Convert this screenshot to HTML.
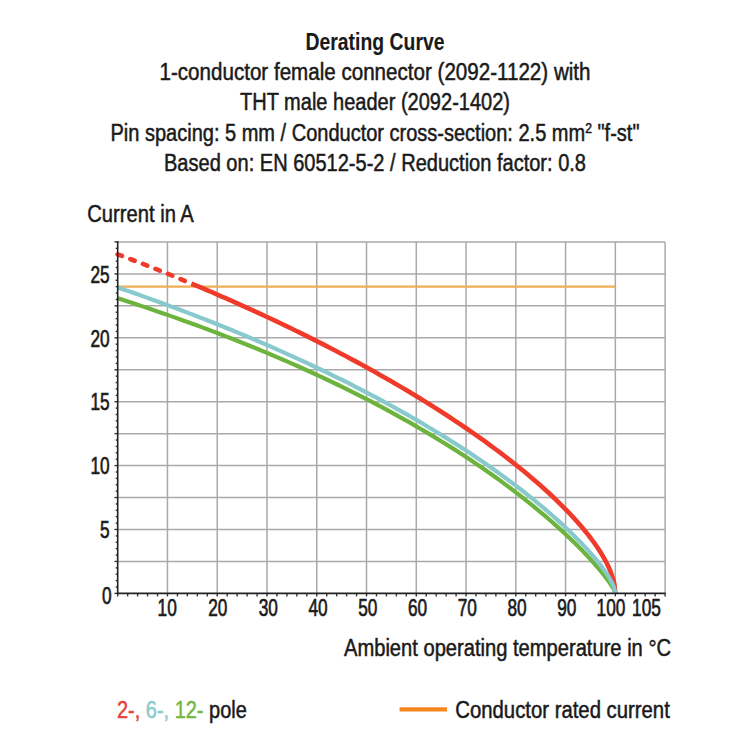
<!DOCTYPE html>
<html><head><meta charset="utf-8"><style>
html,body{margin:0;padding:0;background:#fff;width:750px;height:750px;overflow:hidden}
svg{display:block}
text{font-family:"Liberation Sans",sans-serif;stroke-width:0.5px}
</style></head><body>
<svg width="750" height="750" viewBox="0 0 750 750">
<g id="chart">
<line x1="167.46" y1="241.95" x2="167.46" y2="593.40" stroke="#a9a9a9" stroke-width="1.5"/>
<line x1="217.23" y1="241.95" x2="217.23" y2="593.40" stroke="#a9a9a9" stroke-width="1.5"/>
<line x1="266.99" y1="241.95" x2="266.99" y2="593.40" stroke="#a9a9a9" stroke-width="1.5"/>
<line x1="316.75" y1="241.95" x2="316.75" y2="593.40" stroke="#a9a9a9" stroke-width="1.5"/>
<line x1="366.52" y1="241.95" x2="366.52" y2="593.40" stroke="#a9a9a9" stroke-width="1.5"/>
<line x1="416.28" y1="241.95" x2="416.28" y2="593.40" stroke="#a9a9a9" stroke-width="1.5"/>
<line x1="466.05" y1="241.95" x2="466.05" y2="593.40" stroke="#a9a9a9" stroke-width="1.5"/>
<line x1="515.81" y1="241.95" x2="515.81" y2="593.40" stroke="#a9a9a9" stroke-width="1.5"/>
<line x1="565.57" y1="241.95" x2="565.57" y2="593.40" stroke="#a9a9a9" stroke-width="1.5"/>
<line x1="615.34" y1="241.95" x2="615.34" y2="593.40" stroke="#a9a9a9" stroke-width="1.5"/>
<line x1="665.10" y1="241.95" x2="665.10" y2="593.40" stroke="#a9a9a9" stroke-width="1.5"/>
<line x1="117.70" y1="561.45" x2="665.10" y2="561.45" stroke="#a9a9a9" stroke-width="1.5"/>
<line x1="117.70" y1="529.50" x2="665.10" y2="529.50" stroke="#a9a9a9" stroke-width="1.5"/>
<line x1="117.70" y1="497.55" x2="665.10" y2="497.55" stroke="#a9a9a9" stroke-width="1.5"/>
<line x1="117.70" y1="465.60" x2="665.10" y2="465.60" stroke="#a9a9a9" stroke-width="1.5"/>
<line x1="117.70" y1="433.65" x2="665.10" y2="433.65" stroke="#a9a9a9" stroke-width="1.5"/>
<line x1="117.70" y1="401.70" x2="665.10" y2="401.70" stroke="#a9a9a9" stroke-width="1.5"/>
<line x1="117.70" y1="369.75" x2="665.10" y2="369.75" stroke="#a9a9a9" stroke-width="1.5"/>
<line x1="117.70" y1="337.80" x2="665.10" y2="337.80" stroke="#a9a9a9" stroke-width="1.5"/>
<line x1="117.70" y1="305.85" x2="665.10" y2="305.85" stroke="#a9a9a9" stroke-width="1.5"/>
<line x1="117.70" y1="273.90" x2="665.10" y2="273.90" stroke="#a9a9a9" stroke-width="1.5"/>
<line x1="117.70" y1="241.95" x2="665.10" y2="241.95" stroke="#a9a9a9" stroke-width="1.5"/>
<line x1="114.50" y1="593.40" x2="117.70" y2="593.40" stroke="#333" stroke-width="1.4"/>
<line x1="115.70" y1="587.01" x2="117.70" y2="587.01" stroke="#333" stroke-width="1.4"/>
<line x1="115.70" y1="580.62" x2="117.70" y2="580.62" stroke="#333" stroke-width="1.4"/>
<line x1="115.70" y1="574.23" x2="117.70" y2="574.23" stroke="#333" stroke-width="1.4"/>
<line x1="115.70" y1="567.84" x2="117.70" y2="567.84" stroke="#333" stroke-width="1.4"/>
<line x1="114.50" y1="561.45" x2="117.70" y2="561.45" stroke="#333" stroke-width="1.4"/>
<line x1="115.70" y1="555.06" x2="117.70" y2="555.06" stroke="#333" stroke-width="1.4"/>
<line x1="115.70" y1="548.67" x2="117.70" y2="548.67" stroke="#333" stroke-width="1.4"/>
<line x1="115.70" y1="542.28" x2="117.70" y2="542.28" stroke="#333" stroke-width="1.4"/>
<line x1="115.70" y1="535.89" x2="117.70" y2="535.89" stroke="#333" stroke-width="1.4"/>
<line x1="114.50" y1="529.50" x2="117.70" y2="529.50" stroke="#333" stroke-width="1.4"/>
<line x1="115.70" y1="523.11" x2="117.70" y2="523.11" stroke="#333" stroke-width="1.4"/>
<line x1="115.70" y1="516.72" x2="117.70" y2="516.72" stroke="#333" stroke-width="1.4"/>
<line x1="115.70" y1="510.33" x2="117.70" y2="510.33" stroke="#333" stroke-width="1.4"/>
<line x1="115.70" y1="503.94" x2="117.70" y2="503.94" stroke="#333" stroke-width="1.4"/>
<line x1="114.50" y1="497.55" x2="117.70" y2="497.55" stroke="#333" stroke-width="1.4"/>
<line x1="115.70" y1="491.16" x2="117.70" y2="491.16" stroke="#333" stroke-width="1.4"/>
<line x1="115.70" y1="484.77" x2="117.70" y2="484.77" stroke="#333" stroke-width="1.4"/>
<line x1="115.70" y1="478.38" x2="117.70" y2="478.38" stroke="#333" stroke-width="1.4"/>
<line x1="115.70" y1="471.99" x2="117.70" y2="471.99" stroke="#333" stroke-width="1.4"/>
<line x1="114.50" y1="465.60" x2="117.70" y2="465.60" stroke="#333" stroke-width="1.4"/>
<line x1="115.70" y1="459.21" x2="117.70" y2="459.21" stroke="#333" stroke-width="1.4"/>
<line x1="115.70" y1="452.82" x2="117.70" y2="452.82" stroke="#333" stroke-width="1.4"/>
<line x1="115.70" y1="446.43" x2="117.70" y2="446.43" stroke="#333" stroke-width="1.4"/>
<line x1="115.70" y1="440.04" x2="117.70" y2="440.04" stroke="#333" stroke-width="1.4"/>
<line x1="114.50" y1="433.65" x2="117.70" y2="433.65" stroke="#333" stroke-width="1.4"/>
<line x1="115.70" y1="427.26" x2="117.70" y2="427.26" stroke="#333" stroke-width="1.4"/>
<line x1="115.70" y1="420.87" x2="117.70" y2="420.87" stroke="#333" stroke-width="1.4"/>
<line x1="115.70" y1="414.48" x2="117.70" y2="414.48" stroke="#333" stroke-width="1.4"/>
<line x1="115.70" y1="408.09" x2="117.70" y2="408.09" stroke="#333" stroke-width="1.4"/>
<line x1="114.50" y1="401.70" x2="117.70" y2="401.70" stroke="#333" stroke-width="1.4"/>
<line x1="115.70" y1="395.31" x2="117.70" y2="395.31" stroke="#333" stroke-width="1.4"/>
<line x1="115.70" y1="388.92" x2="117.70" y2="388.92" stroke="#333" stroke-width="1.4"/>
<line x1="115.70" y1="382.53" x2="117.70" y2="382.53" stroke="#333" stroke-width="1.4"/>
<line x1="115.70" y1="376.14" x2="117.70" y2="376.14" stroke="#333" stroke-width="1.4"/>
<line x1="114.50" y1="369.75" x2="117.70" y2="369.75" stroke="#333" stroke-width="1.4"/>
<line x1="115.70" y1="363.36" x2="117.70" y2="363.36" stroke="#333" stroke-width="1.4"/>
<line x1="115.70" y1="356.97" x2="117.70" y2="356.97" stroke="#333" stroke-width="1.4"/>
<line x1="115.70" y1="350.58" x2="117.70" y2="350.58" stroke="#333" stroke-width="1.4"/>
<line x1="115.70" y1="344.19" x2="117.70" y2="344.19" stroke="#333" stroke-width="1.4"/>
<line x1="114.50" y1="337.80" x2="117.70" y2="337.80" stroke="#333" stroke-width="1.4"/>
<line x1="115.70" y1="331.41" x2="117.70" y2="331.41" stroke="#333" stroke-width="1.4"/>
<line x1="115.70" y1="325.02" x2="117.70" y2="325.02" stroke="#333" stroke-width="1.4"/>
<line x1="115.70" y1="318.63" x2="117.70" y2="318.63" stroke="#333" stroke-width="1.4"/>
<line x1="115.70" y1="312.24" x2="117.70" y2="312.24" stroke="#333" stroke-width="1.4"/>
<line x1="114.50" y1="305.85" x2="117.70" y2="305.85" stroke="#333" stroke-width="1.4"/>
<line x1="115.70" y1="299.46" x2="117.70" y2="299.46" stroke="#333" stroke-width="1.4"/>
<line x1="115.70" y1="293.07" x2="117.70" y2="293.07" stroke="#333" stroke-width="1.4"/>
<line x1="115.70" y1="286.68" x2="117.70" y2="286.68" stroke="#333" stroke-width="1.4"/>
<line x1="115.70" y1="280.29" x2="117.70" y2="280.29" stroke="#333" stroke-width="1.4"/>
<line x1="114.50" y1="273.90" x2="117.70" y2="273.90" stroke="#333" stroke-width="1.4"/>
<line x1="115.70" y1="267.51" x2="117.70" y2="267.51" stroke="#333" stroke-width="1.4"/>
<line x1="115.70" y1="261.12" x2="117.70" y2="261.12" stroke="#333" stroke-width="1.4"/>
<line x1="115.70" y1="254.73" x2="117.70" y2="254.73" stroke="#333" stroke-width="1.4"/>
<line x1="115.70" y1="248.34" x2="117.70" y2="248.34" stroke="#333" stroke-width="1.4"/>
<line x1="114.50" y1="241.95" x2="117.70" y2="241.95" stroke="#333" stroke-width="1.4"/>
<line x1="117.70" y1="593.40" x2="117.70" y2="596.40" stroke="#333" stroke-width="1.4"/>
<line x1="127.65" y1="593.40" x2="127.65" y2="596.40" stroke="#333" stroke-width="1.4"/>
<line x1="137.61" y1="593.40" x2="137.61" y2="596.40" stroke="#333" stroke-width="1.4"/>
<line x1="147.56" y1="593.40" x2="147.56" y2="596.40" stroke="#333" stroke-width="1.4"/>
<line x1="157.51" y1="593.40" x2="157.51" y2="596.40" stroke="#333" stroke-width="1.4"/>
<line x1="167.46" y1="593.40" x2="167.46" y2="596.40" stroke="#333" stroke-width="1.4"/>
<line x1="177.42" y1="593.40" x2="177.42" y2="596.40" stroke="#333" stroke-width="1.4"/>
<line x1="187.37" y1="593.40" x2="187.37" y2="596.40" stroke="#333" stroke-width="1.4"/>
<line x1="197.32" y1="593.40" x2="197.32" y2="596.40" stroke="#333" stroke-width="1.4"/>
<line x1="207.27" y1="593.40" x2="207.27" y2="596.40" stroke="#333" stroke-width="1.4"/>
<line x1="217.23" y1="593.40" x2="217.23" y2="596.40" stroke="#333" stroke-width="1.4"/>
<line x1="227.18" y1="593.40" x2="227.18" y2="596.40" stroke="#333" stroke-width="1.4"/>
<line x1="237.13" y1="593.40" x2="237.13" y2="596.40" stroke="#333" stroke-width="1.4"/>
<line x1="247.09" y1="593.40" x2="247.09" y2="596.40" stroke="#333" stroke-width="1.4"/>
<line x1="257.04" y1="593.40" x2="257.04" y2="596.40" stroke="#333" stroke-width="1.4"/>
<line x1="266.99" y1="593.40" x2="266.99" y2="596.40" stroke="#333" stroke-width="1.4"/>
<line x1="276.94" y1="593.40" x2="276.94" y2="596.40" stroke="#333" stroke-width="1.4"/>
<line x1="286.90" y1="593.40" x2="286.90" y2="596.40" stroke="#333" stroke-width="1.4"/>
<line x1="296.85" y1="593.40" x2="296.85" y2="596.40" stroke="#333" stroke-width="1.4"/>
<line x1="306.80" y1="593.40" x2="306.80" y2="596.40" stroke="#333" stroke-width="1.4"/>
<line x1="316.75" y1="593.40" x2="316.75" y2="596.40" stroke="#333" stroke-width="1.4"/>
<line x1="326.71" y1="593.40" x2="326.71" y2="596.40" stroke="#333" stroke-width="1.4"/>
<line x1="336.66" y1="593.40" x2="336.66" y2="596.40" stroke="#333" stroke-width="1.4"/>
<line x1="346.61" y1="593.40" x2="346.61" y2="596.40" stroke="#333" stroke-width="1.4"/>
<line x1="356.57" y1="593.40" x2="356.57" y2="596.40" stroke="#333" stroke-width="1.4"/>
<line x1="366.52" y1="593.40" x2="366.52" y2="596.40" stroke="#333" stroke-width="1.4"/>
<line x1="376.47" y1="593.40" x2="376.47" y2="596.40" stroke="#333" stroke-width="1.4"/>
<line x1="386.42" y1="593.40" x2="386.42" y2="596.40" stroke="#333" stroke-width="1.4"/>
<line x1="396.38" y1="593.40" x2="396.38" y2="596.40" stroke="#333" stroke-width="1.4"/>
<line x1="406.33" y1="593.40" x2="406.33" y2="596.40" stroke="#333" stroke-width="1.4"/>
<line x1="416.28" y1="593.40" x2="416.28" y2="596.40" stroke="#333" stroke-width="1.4"/>
<line x1="426.23" y1="593.40" x2="426.23" y2="596.40" stroke="#333" stroke-width="1.4"/>
<line x1="436.19" y1="593.40" x2="436.19" y2="596.40" stroke="#333" stroke-width="1.4"/>
<line x1="446.14" y1="593.40" x2="446.14" y2="596.40" stroke="#333" stroke-width="1.4"/>
<line x1="456.09" y1="593.40" x2="456.09" y2="596.40" stroke="#333" stroke-width="1.4"/>
<line x1="466.05" y1="593.40" x2="466.05" y2="596.40" stroke="#333" stroke-width="1.4"/>
<line x1="476.00" y1="593.40" x2="476.00" y2="596.40" stroke="#333" stroke-width="1.4"/>
<line x1="485.95" y1="593.40" x2="485.95" y2="596.40" stroke="#333" stroke-width="1.4"/>
<line x1="495.90" y1="593.40" x2="495.90" y2="596.40" stroke="#333" stroke-width="1.4"/>
<line x1="505.86" y1="593.40" x2="505.86" y2="596.40" stroke="#333" stroke-width="1.4"/>
<line x1="515.81" y1="593.40" x2="515.81" y2="596.40" stroke="#333" stroke-width="1.4"/>
<line x1="525.76" y1="593.40" x2="525.76" y2="596.40" stroke="#333" stroke-width="1.4"/>
<line x1="535.71" y1="593.40" x2="535.71" y2="596.40" stroke="#333" stroke-width="1.4"/>
<line x1="545.67" y1="593.40" x2="545.67" y2="596.40" stroke="#333" stroke-width="1.4"/>
<line x1="555.62" y1="593.40" x2="555.62" y2="596.40" stroke="#333" stroke-width="1.4"/>
<line x1="565.57" y1="593.40" x2="565.57" y2="596.40" stroke="#333" stroke-width="1.4"/>
<line x1="575.53" y1="593.40" x2="575.53" y2="596.40" stroke="#333" stroke-width="1.4"/>
<line x1="585.48" y1="593.40" x2="585.48" y2="596.40" stroke="#333" stroke-width="1.4"/>
<line x1="595.43" y1="593.40" x2="595.43" y2="596.40" stroke="#333" stroke-width="1.4"/>
<line x1="605.38" y1="593.40" x2="605.38" y2="596.40" stroke="#333" stroke-width="1.4"/>
<line x1="615.34" y1="593.40" x2="615.34" y2="596.40" stroke="#333" stroke-width="1.4"/>
<line x1="625.29" y1="593.40" x2="625.29" y2="596.40" stroke="#333" stroke-width="1.4"/>
<line x1="635.24" y1="593.40" x2="635.24" y2="596.40" stroke="#333" stroke-width="1.4"/>
<line x1="645.19" y1="593.40" x2="645.19" y2="596.40" stroke="#333" stroke-width="1.4"/>
<line x1="655.15" y1="593.40" x2="655.15" y2="596.40" stroke="#333" stroke-width="1.4"/>
<line x1="665.10" y1="593.40" x2="665.10" y2="596.40" stroke="#333" stroke-width="1.4"/>
<line x1="117.70" y1="286.68" x2="615.34" y2="286.68" stroke="#f0ad55" stroke-width="2.2"/>
<path d="M117.70,254.31 L122.68,256.19 L127.65,258.08 L132.63,259.99 L137.61,261.91 L142.58,263.85 L147.56,265.80 L152.53,267.76 L157.51,269.73 L162.49,271.72 L167.46,273.72 L172.44,275.74 L177.42,277.77 L182.39,279.82 L187.37,281.87 L191.35,283.53" fill="none" stroke="#f03a2a" stroke-width="4.6" stroke-linecap="round" stroke-dasharray="4.6 8.9"/>
<path d="M191.35,283.53 L196.33,285.62 L201.30,287.72 L206.28,289.83 L211.26,291.97 L216.23,294.11 L221.21,296.27 L226.18,298.45 L231.16,300.64 L236.14,302.85 L241.11,305.08 L246.09,307.32 L251.07,309.58 L256.04,311.86 L261.02,314.15 L266.00,316.47 L270.97,318.79 L275.95,321.14 L280.92,323.51 L285.90,325.89 L290.88,328.29 L295.85,330.72 L300.83,333.16 L305.81,335.62 L310.78,338.10 L315.76,340.60 L320.74,343.12 L325.71,345.66 L330.69,348.23 L335.66,350.81 L340.64,353.42 L345.62,356.05 L350.59,358.71 L355.57,361.39 L360.55,364.09 L365.52,366.81 L370.50,369.56 L375.48,372.34 L380.45,375.14 L385.43,377.97 L390.40,380.83 L395.38,383.71 L400.36,386.63 L405.33,389.57 L410.31,392.54 L415.29,395.55 L420.26,398.58 L425.24,401.65 L430.22,404.75 L435.19,407.89 L440.17,411.06 L445.14,414.27 L450.12,417.52 L455.10,420.81 L460.07,424.14 L465.05,427.51 L470.03,430.93 L475.00,434.39 L479.98,437.90 L484.96,441.46 L489.93,445.07 L494.91,448.74 L499.88,452.46 L504.86,456.25 L509.84,460.10 L514.81,464.02 L519.79,468.01 L524.77,472.08 L529.74,476.23 L534.72,480.47 L539.70,484.80 L544.67,489.24 L549.65,493.80 L554.62,498.47 L559.60,503.29 L564.58,508.27 L569.55,513.42 L570.80,514.74 L572.04,516.07 L573.29,517.42 L574.53,518.78 L575.77,520.16 L577.02,521.55 L578.26,522.96 L579.51,524.38 L580.75,525.82 L581.99,527.29 L583.24,528.77 L584.48,530.27 L585.73,531.79 L586.97,533.34 L588.22,534.91 L589.46,536.51 L590.70,538.14 L591.95,539.80 L593.19,541.49 L594.44,543.22 L595.68,544.98 L596.92,546.79 L598.17,548.64 L599.41,550.55 L600.66,552.51 L601.90,554.54 L603.14,556.64 L604.39,558.82 L605.63,561.11 L606.88,563.51 L608.12,566.06 L609.36,568.79 L610.61,571.76 L611.85,575.09 L613.10,578.97 L614.34,584.01 L615.34,593.40" fill="none" stroke="#f03a2a" stroke-width="4.6" stroke-linejoin="round"/>
<path d="M117.70,298.24 L122.68,299.84 L127.65,301.46 L132.63,303.08 L137.61,304.73 L142.58,306.38 L147.56,308.05 L152.53,309.73 L157.51,311.43 L162.49,313.14 L167.46,314.87 L172.44,316.61 L177.42,318.37 L182.39,320.15 L187.37,321.93 L192.35,323.74 L197.32,325.56 L202.30,327.40 L207.27,329.25 L212.25,331.13 L217.23,333.01 L222.20,334.92 L227.18,336.84 L232.16,338.79 L237.13,340.75 L242.11,342.73 L247.09,344.72 L252.06,346.74 L257.04,348.77 L262.01,350.83 L266.99,352.91 L271.97,355.00 L276.94,357.12 L281.92,359.25 L286.90,361.41 L291.87,363.59 L296.85,365.79 L301.83,368.02 L306.80,370.26 L311.78,372.53 L316.75,374.83 L321.73,377.14 L326.71,379.48 L331.68,381.85 L336.66,384.24 L341.64,386.66 L346.61,389.10 L351.59,391.57 L356.57,394.06 L361.54,396.59 L366.52,399.14 L371.49,401.72 L376.47,404.32 L381.45,406.96 L386.42,409.63 L391.40,412.33 L396.38,415.06 L401.35,417.82 L406.33,420.62 L411.31,423.45 L416.28,426.31 L421.26,429.21 L426.23,432.15 L431.21,435.12 L436.19,438.13 L441.16,441.17 L446.14,444.26 L451.12,447.39 L456.09,450.56 L461.07,453.77 L466.05,457.03 L471.02,460.33 L476.00,463.67 L480.97,467.07 L485.95,470.52 L490.93,474.01 L495.90,477.56 L500.88,481.17 L505.86,484.83 L510.83,488.55 L515.81,492.33 L520.79,496.18 L525.76,500.09 L530.74,504.07 L535.71,508.13 L540.69,512.26 L545.67,516.47 L550.64,520.78 L555.62,525.17 L560.60,529.66 L565.57,534.26 L566.82,535.43 L568.06,536.60 L569.31,537.78 L570.55,538.98 L571.79,540.17 L573.04,541.38 L574.28,542.59 L575.53,543.82 L576.77,545.05 L578.01,546.29 L579.26,547.54 L580.50,548.80 L581.75,550.07 L582.99,551.35 L584.23,552.64 L585.48,553.95 L586.72,555.26 L587.97,556.58 L589.21,557.92 L590.45,559.27 L591.70,560.64 L592.94,562.02 L594.19,563.41 L595.43,564.83 L596.68,566.25 L597.92,567.70 L599.16,569.17 L600.41,570.66 L601.65,572.17 L602.90,573.70 L604.14,575.27 L605.38,576.87 L606.63,578.50 L607.87,580.18 L609.12,581.91 L610.36,583.71 L611.60,585.59 L612.85,587.60 L614.09,589.85 L615.34,593.40" fill="none" stroke="#6db43e" stroke-width="4.2" stroke-linejoin="round"/>
<path d="M117.70,287.43 L122.68,289.14 L127.65,290.86 L132.63,292.60 L137.61,294.35 L142.58,296.11 L147.56,297.88 L152.53,299.67 L157.51,301.48 L162.49,303.29 L167.46,305.13 L172.44,306.97 L177.42,308.83 L182.39,310.71 L187.37,312.59 L192.35,314.50 L197.32,316.42 L202.30,318.35 L207.27,320.30 L212.25,322.27 L217.23,324.25 L222.20,326.25 L227.18,328.26 L232.16,330.30 L237.13,332.34 L242.11,334.41 L247.09,336.49 L252.06,338.59 L257.04,340.71 L262.01,342.85 L266.99,345.00 L271.97,347.17 L276.94,349.36 L281.92,351.58 L286.90,353.81 L291.87,356.06 L296.85,358.33 L301.83,360.62 L306.80,362.93 L311.78,365.26 L316.75,367.62 L321.73,369.99 L326.71,372.39 L331.68,374.81 L336.66,377.26 L341.64,379.72 L346.61,382.21 L351.59,384.73 L356.57,387.27 L361.54,389.83 L366.52,392.43 L371.49,395.04 L376.47,397.69 L381.45,400.36 L386.42,403.05 L391.40,405.78 L396.38,408.54 L401.35,411.32 L406.33,414.14 L411.31,416.98 L416.28,419.86 L421.26,422.77 L426.23,425.72 L431.21,428.70 L436.19,431.71 L441.16,434.76 L446.14,437.85 L451.12,440.97 L456.09,444.13 L461.07,447.34 L466.05,450.58 L471.02,453.87 L476.00,457.21 L480.97,460.58 L485.95,464.01 L490.93,467.49 L495.90,471.01 L500.88,474.59 L505.86,478.23 L510.83,481.93 L515.81,485.68 L520.79,489.50 L525.76,493.39 L530.74,497.35 L535.71,501.38 L540.69,505.50 L545.67,509.70 L550.64,513.99 L555.62,518.39 L560.60,522.89 L565.57,527.51 L566.82,528.69 L568.06,529.87 L569.31,531.07 L570.55,532.27 L571.79,533.48 L573.04,534.70 L574.28,535.93 L575.53,537.17 L576.77,538.43 L578.01,539.69 L579.26,540.96 L580.50,542.25 L581.75,543.55 L582.99,544.86 L584.23,546.19 L585.48,547.53 L586.72,548.88 L587.97,550.25 L589.21,551.64 L590.45,553.05 L591.70,554.47 L592.94,555.91 L594.19,557.38 L595.43,558.87 L596.68,560.38 L597.92,561.92 L599.16,563.49 L600.41,565.09 L601.65,566.72 L602.90,568.40 L604.14,570.12 L605.38,571.90 L606.63,573.73 L607.87,575.64 L609.12,577.64 L610.36,579.76 L611.60,582.05 L612.85,584.58 L614.09,587.59 L615.34,593.40" fill="none" stroke="#87c9cc" stroke-width="4.2" stroke-linejoin="round"/>
<line x1="117.70" y1="241.25" x2="117.70" y2="594.20" stroke="#222" stroke-width="1.6"/>
<line x1="116.90" y1="593.40" x2="665.60" y2="593.40" stroke="#222" stroke-width="1.6"/>
<line x1="399.6" y1="709.4" x2="447" y2="709.4" stroke="#f5861f" stroke-width="4.2"/>
</g>
<g id="txt">
<text style="stroke-width:0.1px" x="375.0" y="49.8" font-size="24.0" font-weight="bold" text-anchor="middle" fill="#1a1a1a" stroke="#1a1a1a" textLength="139.0" lengthAdjust="spacingAndGlyphs">Derating Curve</text>
<text x="375.0" y="79.6" font-size="23.0" font-weight="normal" text-anchor="middle" fill="#1a1a1a" stroke="#1a1a1a" textLength="431.0" lengthAdjust="spacingAndGlyphs">1-conductor female connector (2092-1122) with</text>
<text x="375.0" y="110.4" font-size="23.0" font-weight="normal" text-anchor="middle" fill="#1a1a1a" stroke="#1a1a1a" textLength="270.0" lengthAdjust="spacingAndGlyphs">THT male header (2092-1402)</text>
<text x="375.0" y="141.0" font-size="23.0" font-weight="normal" text-anchor="middle" fill="#1a1a1a" stroke="#1a1a1a" textLength="529.0" lengthAdjust="spacingAndGlyphs">Pin spacing: 5 mm / Conductor cross-section: 2.5 mm<tspan font-size="14" dy="-8">2</tspan><tspan dy="8"> "f-st"</tspan></text>
<text x="375.0" y="171.4" font-size="23.0" font-weight="normal" text-anchor="middle" fill="#1a1a1a" stroke="#1a1a1a" textLength="422.0" lengthAdjust="spacingAndGlyphs">Based on: EN 60512-5-2 / Reduction factor: 0.8</text>
<text x="87.3" y="221.9" font-size="23.0" font-weight="normal" text-anchor="start" fill="#1a1a1a" stroke="#1a1a1a" textLength="106.5" lengthAdjust="spacingAndGlyphs">Current in A</text>
<text x="344.0" y="655.8" font-size="23.3" font-weight="normal" text-anchor="start" fill="#1a1a1a" stroke="#1a1a1a" textLength="327.0" lengthAdjust="spacingAndGlyphs">Ambient operating temperature in °C</text>
<text transform="translate(109.60,282.70) scale(0.710,1)" style="stroke-width:0.7px" font-size="24.3" font-weight="normal" text-anchor="end" fill="#1a1a1a" stroke="#1a1a1a">25</text>
<text transform="translate(109.60,346.60) scale(0.710,1)" style="stroke-width:0.7px" font-size="24.3" font-weight="normal" text-anchor="end" fill="#1a1a1a" stroke="#1a1a1a">20</text>
<text transform="translate(109.60,410.20) scale(0.710,1)" style="stroke-width:0.7px" font-size="24.3" font-weight="normal" text-anchor="end" fill="#1a1a1a" stroke="#1a1a1a">15</text>
<text transform="translate(109.60,474.10) scale(0.710,1)" style="stroke-width:0.7px" font-size="24.3" font-weight="normal" text-anchor="end" fill="#1a1a1a" stroke="#1a1a1a">10</text>
<text transform="translate(109.60,538.40) scale(0.710,1)" style="stroke-width:0.7px" font-size="24.3" font-weight="normal" text-anchor="end" fill="#1a1a1a" stroke="#1a1a1a">5</text>
<text transform="translate(111.60,603.60) scale(0.710,1)" style="stroke-width:0.7px" font-size="24.3" font-weight="normal" text-anchor="end" fill="#1a1a1a" stroke="#1a1a1a">0</text>
<text transform="translate(167.16,616.20) scale(0.710,1)" style="stroke-width:0.7px" font-size="24.3" font-weight="normal" text-anchor="middle" fill="#1a1a1a" stroke="#1a1a1a">10</text>
<text transform="translate(217.83,616.20) scale(0.710,1)" style="stroke-width:0.7px" font-size="24.3" font-weight="normal" text-anchor="middle" fill="#1a1a1a" stroke="#1a1a1a">20</text>
<text transform="translate(268.29,616.20) scale(0.710,1)" style="stroke-width:0.7px" font-size="24.3" font-weight="normal" text-anchor="middle" fill="#1a1a1a" stroke="#1a1a1a">30</text>
<text transform="translate(318.05,616.20) scale(0.710,1)" style="stroke-width:0.7px" font-size="24.3" font-weight="normal" text-anchor="middle" fill="#1a1a1a" stroke="#1a1a1a">40</text>
<text transform="translate(367.82,616.20) scale(0.710,1)" style="stroke-width:0.7px" font-size="24.3" font-weight="normal" text-anchor="middle" fill="#1a1a1a" stroke="#1a1a1a">50</text>
<text transform="translate(417.58,616.20) scale(0.710,1)" style="stroke-width:0.7px" font-size="24.3" font-weight="normal" text-anchor="middle" fill="#1a1a1a" stroke="#1a1a1a">60</text>
<text transform="translate(467.35,616.20) scale(0.710,1)" style="stroke-width:0.7px" font-size="24.3" font-weight="normal" text-anchor="middle" fill="#1a1a1a" stroke="#1a1a1a">70</text>
<text transform="translate(517.11,616.20) scale(0.710,1)" style="stroke-width:0.7px" font-size="24.3" font-weight="normal" text-anchor="middle" fill="#1a1a1a" stroke="#1a1a1a">80</text>
<text transform="translate(566.87,616.20) scale(0.710,1)" style="stroke-width:0.7px" font-size="24.3" font-weight="normal" text-anchor="middle" fill="#1a1a1a" stroke="#1a1a1a">90</text>
<text transform="translate(611.00,616.20) scale(0.710,1)" style="stroke-width:0.7px" font-size="24.3" font-weight="normal" text-anchor="middle" fill="#1a1a1a" stroke="#1a1a1a">100</text>
<text transform="translate(646.50,616.20) scale(0.710,1)" style="stroke-width:0.7px" font-size="24.3" font-weight="normal" text-anchor="middle" fill="#1a1a1a" stroke="#1a1a1a">105</text>
<text x="117" y="717.7" font-size="23.3" textLength="129.8" lengthAdjust="spacingAndGlyphs"><tspan fill="#e8413a" stroke="#e8413a">2-, </tspan><tspan fill="#8ccbcf" stroke="#8ccbcf">6-, </tspan><tspan fill="#72b645" stroke="#72b645">12- </tspan><tspan fill="#1a1a1a" stroke="#1a1a1a">pole</tspan></text>
<text x="455.3" y="718.0" font-size="23.3" font-weight="normal" text-anchor="start" fill="#1a1a1a" stroke="#1a1a1a" textLength="214.5" lengthAdjust="spacingAndGlyphs">Conductor rated current</text>
</g>
</svg>
</body></html>
